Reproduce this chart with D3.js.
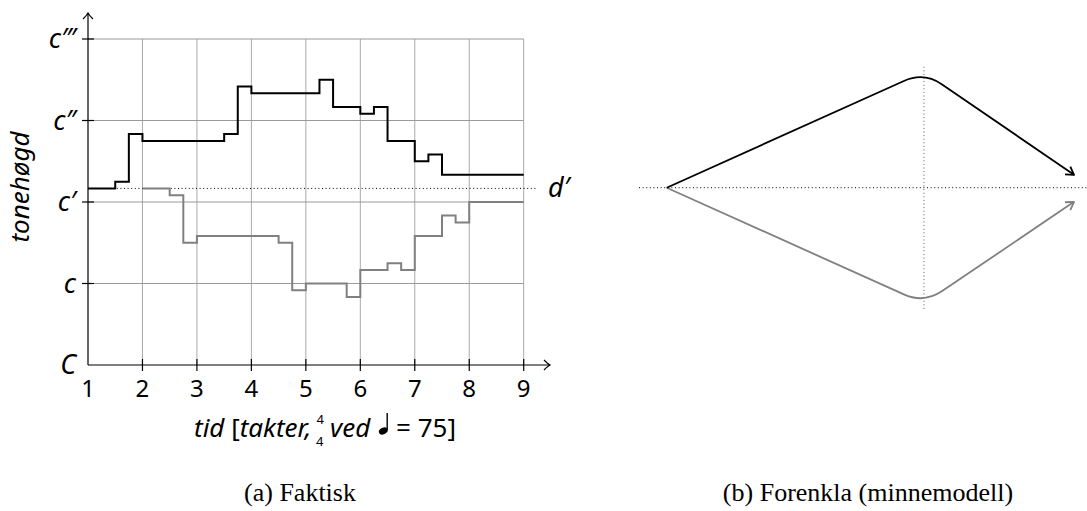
<!DOCTYPE html>
<html><head><meta charset="utf-8">
<script src="https://cdn.jsdelivr.net/npm/d3@7"></script>
<style>body{margin:0;background:#fff}svg{display:block}</style>
</head><body>
<script>
// ---- data ----
const xTicks = [1,2,3,4,5,6,7,8,9];
const pitchTicks = [0,12,24,36,48];            // semitones above C
const pitchLabels = ["C","c","c\u2032","c\u2033","c\u2034"];
const refPitch = 26;                            // d'
const refLabel = "d\u2032";
// upper voice (black): segment starts and pitches
const upperX = [1,1.5,1.75,2,3.5,3.75,4,5.25,5.5,6,6.25,6.5,7,7.25,7.5,9];
const upperPitch = [26,27,34,33,34,41,40,42,38,37,38,33,30,31,28];
// lower voice (grey)
const lowerX = [2,2.5,2.75,3,4.5,4.75,5,5.75,6,6.5,6.75,7,7.5,7.75,8,9];
const lowerPitch = [26,25,18,19,18,11,12,10,14,15,14,19,22,21,24];
// simplified memory model (b)
const modelX = [0,6,9.5];
const modelUpper = [0,2.7,0.3];
const modelLower = [0,-2.7,-0.33];
const captions = ["(a) Faktisk","(b) Forenkla (minnemodell)"];

const W=1087,H=511;
const svg=d3.select("body").append("svg").attr("width",W).attr("height",H);
const sans='"Noto Sans", "Open Sans", sans-serif';
const serif='"Liberation Serif", "DejaVu Serif", serif';

// ---- panel (a) ----
const x=d3.scaleLinear().domain([1,9]).range([88,523.7]);
const y=d3.scaleLinear().domain([0,48]).range([365,39]);
const gA=svg.append("g");

// grid
gA.append("g").selectAll("line").data(xTicks.slice(1)).join("line")
  .attr("x1",d=>x(d)).attr("x2",d=>x(d)).attr("y1",y(0)).attr("y2",y(48))
  .attr("stroke","#aaa").attr("stroke-width",1);
gA.append("g").selectAll("line").data(pitchTicks.slice(1)).join("line")
  .attr("x1",x(1)).attr("x2",x(9)).attr("y1",d=>y(d)).attr("y2",d=>y(d))
  .attr("stroke","#999").attr("stroke-width",1);

// reference dotted line d'
gA.append("line").attr("x1",x(1)).attr("x2",537).attr("y1",y(refPitch)).attr("y2",y(refPitch))
  .attr("stroke","#000").attr("stroke-width",1).attr("stroke-dasharray","1,2.6");
gA.append("text").attr("x",548).attr("y",y(refPitch)+9).text(refLabel)
  .attr("font-family",sans).attr("font-style","italic").attr("font-size",27);

// step lines
function stepPts(xs,ps){const pts=ps.map((p,i)=>[xs[i],p]);pts.push([xs[xs.length-1],ps[ps.length-1]]);return pts;}
const stepLine=d3.line().x(d=>x(d[0])).y(d=>y(d[1])).curve(d3.curveStepAfter);
gA.append("path").attr("d",stepLine(stepPts(lowerX,lowerPitch)))
  .attr("fill","none").attr("stroke","#808080").attr("stroke-width",2);
gA.append("path").attr("d",stepLine(stepPts(upperX,upperPitch)))
  .attr("fill","none").attr("stroke","#000").attr("stroke-width",2);

// axes
const axG=gA.append("g").attr("stroke","#000").attr("stroke-width",1.2).attr("fill","none");
axG.append("line").attr("x1",x(1)).attr("x2",550).attr("y1",y(0)).attr("y2",y(0));
axG.append("line").attr("x1",x(1)).attr("x2",x(1)).attr("y1",y(0)).attr("y2",13);
axG.append("path").attr("d",`M${550-6},${y(0)-5} Q${550-2},${y(0)-1} 550,${y(0)} Q${550-2},${y(0)+1} ${550-6},${y(0)+5}`);
axG.append("path").attr("d",`M${x(1)-5},19 Q${x(1)-1},15 ${x(1)},13 Q${x(1)+1},15 ${x(1)+5},19`);
// ticks
axG.selectAll(".xt").data(xTicks.slice(1)).join("line").attr("class","xt")
  .attr("x1",d=>x(d)).attr("x2",d=>x(d)).attr("y1",y(0)-6).attr("y2",y(0)+6);
axG.selectAll(".yt").data(pitchTicks.slice(1)).join("line").attr("class","yt")
  .attr("x1",x(1)-6).attr("x2",x(1)+6).attr("y1",d=>y(d)).attr("y2",d=>y(d));

// tick labels
gA.append("g").selectAll("text").data(xTicks).join("text")
  .attr("x",d=>x(d)).attr("y",397).attr("text-anchor","middle")
  .attr("font-family",sans).attr("font-size",24).text(d=>d);
gA.append("g").selectAll("text").data(pitchTicks).join("text")
  .attr("x",76).attr("y",d=>y(d)+9).attr("text-anchor","end")
  .attr("font-family",sans).attr("font-style","italic").attr("font-size",27)
  .text((d,i)=>pitchLabels[i]);

// axis titles
gA.append("text").attr("transform","translate(29,187) rotate(-90)").attr("text-anchor","middle")
  .attr("font-family",sans).attr("font-style","italic").attr("font-size",26).text("tonehøgd");
const xl=gA.append("text").attr("x",0).attr("y",437)
  .attr("font-family",sans).attr("font-size",26);
xl.append("tspan").attr("font-style","italic").text("tid ");
xl.append("tspan").text("[");
xl.append("tspan").attr("font-style","italic").text("takter,");
xl.append("tspan").attr("font-size",13).attr("dx",5).attr("dy",-13).text("4");
xl.append("tspan").attr("font-size",13).attr("dx",-8).attr("dy",22).text("4");
xl.append("tspan").attr("dy",-9).attr("font-style","italic").text(" ved");
const after=xl.append("tspan").attr("dx",19).text(" = 75]");
// center the label under the axis, then place the quarter-note glyph in the gap
const tl=xl.node().getComputedTextLength();
xl.attr("x",317-tl/2);
const nchars="tid [takter,44 ved".length;
const noteX=xl.node().getStartPositionOfChar(nchars).x-6;
const note=gA.append("g").attr("transform",`translate(${noteX},431)`);
note.append("ellipse").attr("rx",4.6).attr("ry",3.2).attr("transform","rotate(-25)").attr("fill","#000");
note.append("line").attr("x1",3.9).attr("x2",3.9).attr("y1",-1).attr("y2",-18).attr("stroke","#000").attr("stroke-width",1.4);

// ---- panel (b) ----
const xr=d3.scaleLinear().domain([0,9.5]).range([666.7,1074]);
const yr=d3.scaleLinear().domain([0,1]).range([187.7,187.7-42.87]);
const gB=svg.append("g");
gB.append("line").attr("x1",639).attr("x2",1087).attr("y1",yr(0)).attr("y2",yr(0))
  .attr("stroke","#000").attr("stroke-width",1).attr("stroke-dasharray","1,2.6");
gB.append("line").attr("x1",xr(modelX[1])).attr("x2",xr(modelX[1])).attr("y1",66.7).attr("y2",310)
  .attr("stroke","#555").attr("stroke-width",1).attr("stroke-dasharray","1,2.6");

function roundedPath(pts,r){
  const [a,c,b]=pts;
  const l1=Math.hypot(c[0]-a[0],c[1]-a[1]), l2=Math.hypot(b[0]-c[0],b[1]-c[1]);
  const p1=[c[0]-(c[0]-a[0])/l1*r, c[1]-(c[1]-a[1])/l1*r];
  const p2=[c[0]+(b[0]-c[0])/l2*r, c[1]+(b[1]-c[1])/l2*r];
  const p=d3.path(); p.moveTo(a[0],a[1]); p.lineTo(p1[0],p1[1]);
  p.quadraticCurveTo(c[0],c[1],p2[0],p2[1]); p.lineTo(b[0],b[1]);
  return p.toString();
}
function arrowHead(g,from,to,color){
  const ang=Math.atan2(to[1]-from[1],to[0]-from[0]); const L=9,s=0.55;
  const p1=[to[0]-L*Math.cos(ang-s),to[1]-L*Math.sin(ang-s)];
  const p2=[to[0]-L*Math.cos(ang+s),to[1]-L*Math.sin(ang+s)];
  g.append("path").attr("d",`M${p1}L${to}L${p2}`).attr("fill","none")
    .attr("stroke",color).attr("stroke-width",1.8).attr("stroke-linejoin","round");
}
[[modelLower,"#808080"],[modelUpper,"#000"]].forEach(([vals,col])=>{
  const pts=modelX.map((v,i)=>[xr(v),yr(vals[i])]);
  gB.append("path").attr("d",roundedPath(pts,22)).attr("fill","none")
    .attr("stroke",col).attr("stroke-width",1.8);
  arrowHead(gB,pts[1],pts[2],col);
});

// captions
svg.append("text").attr("x",300).attr("y",501).attr("text-anchor","middle")
  .attr("font-family",serif).attr("font-size",26).text(captions[0]);
svg.append("text").attr("x",868).attr("y",501).attr("text-anchor","middle")
  .attr("font-family",serif).attr("font-size",26).text(captions[1]);
</script>
</body></html>
